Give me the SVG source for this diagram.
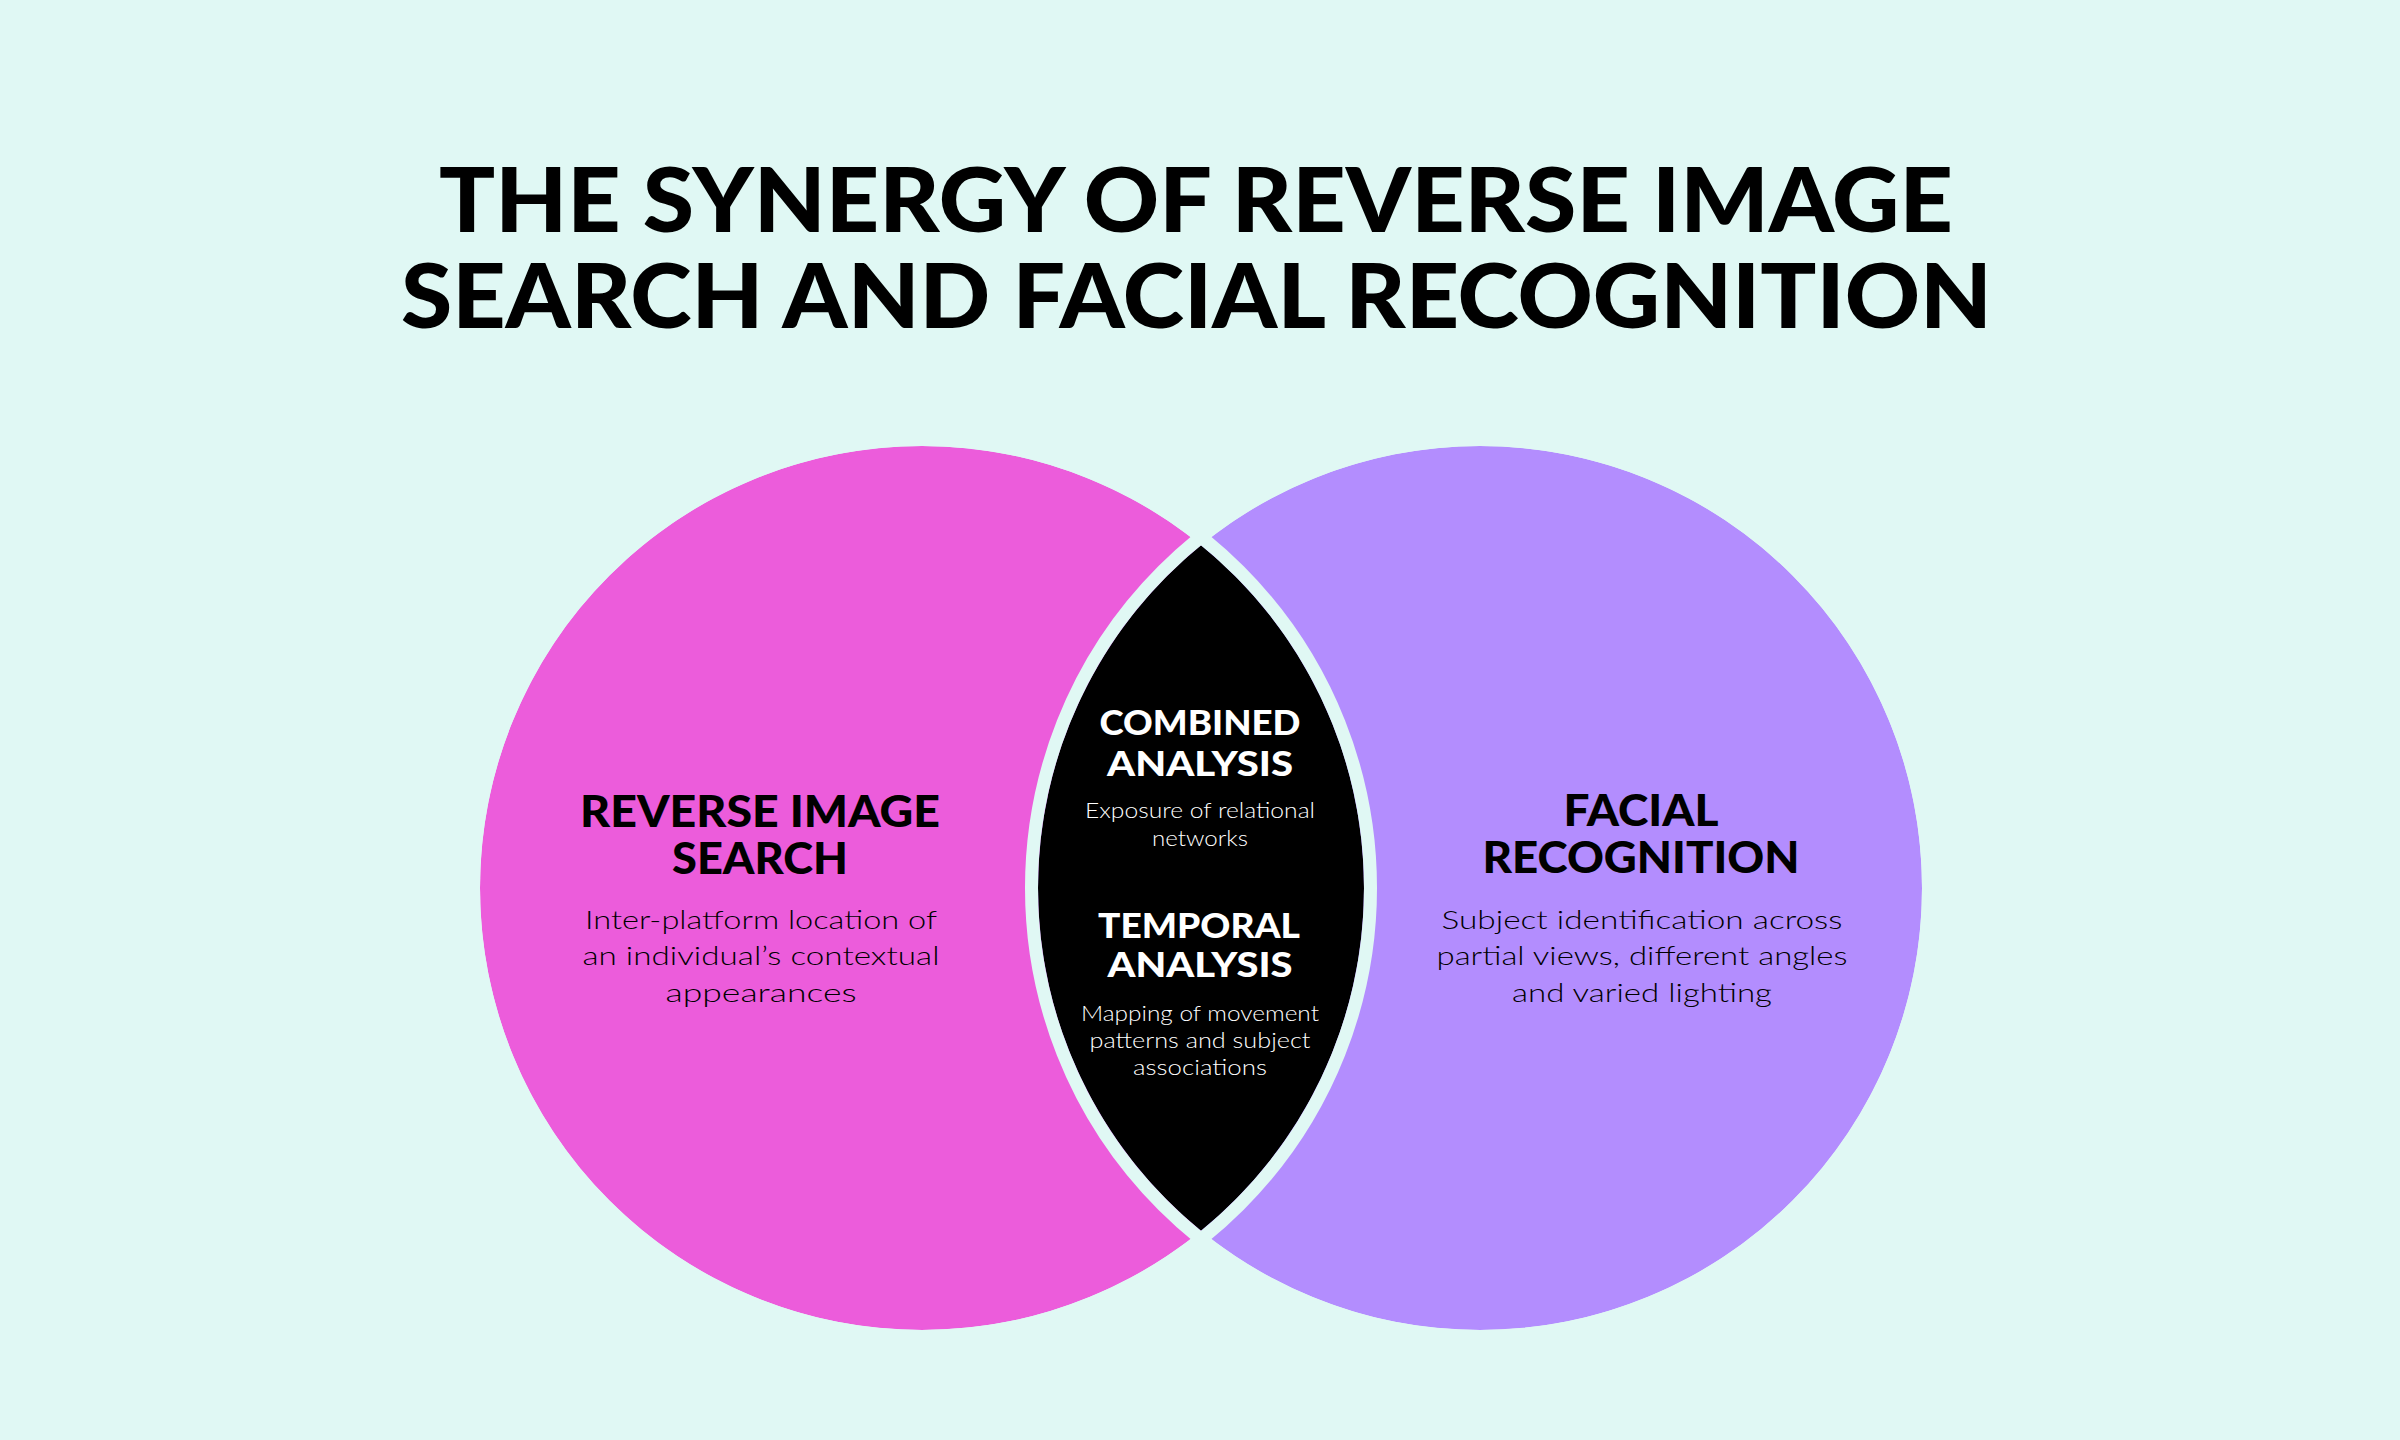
<svg xmlns="http://www.w3.org/2000/svg" width="2400" height="1440" viewBox="0 0 2400 1440">
  <style>
    .title { font-family: "Lato", "Liberation Sans", sans-serif; font-weight: 900; font-size: 90px; fill: #000; text-anchor: middle; }
    .head { font-family: "Lato", "Liberation Sans", sans-serif; font-weight: 900; font-size: 44px; fill: #000; text-anchor: middle; }
    .chead { font-family: "Lato", "Liberation Sans", sans-serif; font-weight: 900; font-size: 35px; fill: #fff; text-anchor: middle; }
    .body { font-family: "Lato", "Liberation Sans", sans-serif; font-weight: 300; font-size: 25px; fill: #000; text-anchor: middle; }
    .cbody { font-family: "Lato", "Liberation Sans", sans-serif; font-weight: 300; font-size: 21px; fill: #fff; text-anchor: middle; }
    .gap { fill: none; stroke: #E0F8F4; stroke-width: 13; }
  </style>
  <rect x="0" y="0" width="2400" height="1440" fill="#E0F8F4"/>

  <g id="title">
    <text class="title" x="1196" y="232" textLength="1514" lengthAdjust="spacingAndGlyphs">THE SYNERGY OF REVERSE IMAGE</text>
    <text class="title" x="1196.5" y="328" textLength="1591" lengthAdjust="spacingAndGlyphs">SEARCH AND FACIAL RECOGNITION</text>
  </g>

  <g id="reverse-image-search">
    <circle cx="922" cy="888" r="442" fill="#EC5CDB"/>
  </g>
  <g id="facial-recognition">
    <circle cx="1480" cy="888" r="442" fill="#B38DFE"/>
  </g>
  <g id="overlap">
    <path d="M1201,545.2 A442,442 0 0,1 1201,1230.8 A442,442 0 0,1 1201,545.2 Z" fill="#000"/>
  </g>
  <g id="connectors">
    <circle class="gap" cx="922" cy="888" r="448.5"/>
    <circle class="gap" cx="1480" cy="888" r="448.5"/>
  </g>

  <g id="reverse-image-search-text">
    <text class="head" x="760" y="827" textLength="360" lengthAdjust="spacingAndGlyphs">REVERSE IMAGE</text>
    <text class="head" x="760" y="874" textLength="176" lengthAdjust="spacingAndGlyphs">SEARCH</text>
    <text class="body" x="761" y="929" textLength="352" lengthAdjust="spacingAndGlyphs">Inter-platform location of</text>
    <text class="body" x="761" y="965" textLength="357" lengthAdjust="spacingAndGlyphs">an individual’s contextual</text>
    <text class="body" x="761" y="1002" textLength="191" lengthAdjust="spacingAndGlyphs">appearances</text>
  </g>

  <g id="facial-recognition-text">
    <text class="head" x="1641" y="826" textLength="155" lengthAdjust="spacingAndGlyphs">FACIAL</text>
    <text class="head" x="1641" y="873" textLength="317" lengthAdjust="spacingAndGlyphs">RECOGNITION</text>
    <text class="body" x="1642" y="929" textLength="401" lengthAdjust="spacingAndGlyphs">Subject identification across</text>
    <text class="body" x="1642" y="965" textLength="411" lengthAdjust="spacingAndGlyphs">partial views, different angles</text>
    <text class="body" x="1642" y="1002" textLength="260" lengthAdjust="spacingAndGlyphs">and varied lighting</text>
  </g>

  <g id="combined-analysis">
    <text class="chead" x="1200" y="735" textLength="201" lengthAdjust="spacingAndGlyphs">COMBINED</text>
    <text class="chead" x="1200" y="776" textLength="186" lengthAdjust="spacingAndGlyphs">ANALYSIS</text>
    <text class="cbody" x="1200" y="818" textLength="230" lengthAdjust="spacingAndGlyphs">Exposure of relational</text>
    <text class="cbody" x="1200" y="846" textLength="96" lengthAdjust="spacingAndGlyphs">networks</text>
  </g>

  <g id="temporal-analysis">
    <text class="chead" x="1199" y="938" textLength="202" lengthAdjust="spacingAndGlyphs">TEMPORAL</text>
    <text class="chead" x="1200" y="977" textLength="185" lengthAdjust="spacingAndGlyphs">ANALYSIS</text>
    <text class="cbody" x="1200" y="1021" textLength="238" lengthAdjust="spacingAndGlyphs">Mapping of movement</text>
    <text class="cbody" x="1200" y="1048" textLength="221" lengthAdjust="spacingAndGlyphs">patterns and subject</text>
    <text class="cbody" x="1200" y="1075" textLength="134" lengthAdjust="spacingAndGlyphs">associations</text>
  </g>
</svg>
